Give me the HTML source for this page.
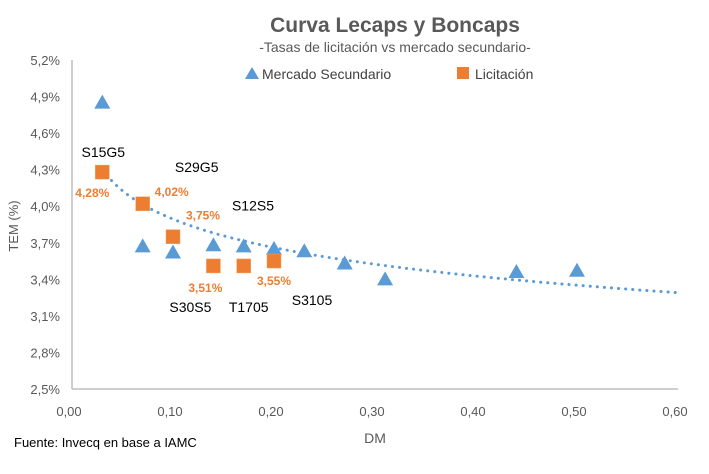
<!DOCTYPE html>
<html><head><meta charset="utf-8"><style>
body{margin:0;background:#fff;font-family:"Liberation Sans",sans-serif}
svg text{font-family:"Liberation Sans",sans-serif}
</style></head><body>
<svg id="c" width="709" height="469">
<text x="395" y="32" text-anchor="middle" font-size="21" font-weight="bold" fill="#595959">Curva Lecaps y Boncaps</text>
<text x="395" y="52" text-anchor="middle" font-size="14" fill="#595959">-Tasas de licitación vs mercado secundario-</text>
<g>
<polygon points="252,67 259,79 245,79" fill="#5b9bd5"/>
<text x="262" y="79" font-size="14" fill="#404040">Mercado Secundario</text>
<rect x="457" y="67" width="12" height="12" fill="#ed7d31"/>
<text x="475" y="79" font-size="14" fill="#404040">Licitación</text>
</g>
<g id="axes"></g><g id="marks"></g>
<text x="18" y="226" font-size="13" fill="#595959" transform="rotate(-90 18 226)" text-anchor="middle">TEM (%)</text>
<text x="375" y="443" font-size="14" fill="#595959" text-anchor="middle">DM</text>
<text x="14" y="447" font-size="13" fill="#000">Fuente: Invecq en base a IAMC</text>
</svg>
<script>
const xTicks=[0,0.1,0.2,0.3,0.4,0.5,0.6];
const xTickLabels=["0,00","0,10","0,20","0,30","0,40","0,50","0,60"];
const yTicks=[2.5,2.8,3.1,3.4,3.7,4.0,4.3,4.6,4.9,5.2];
const yTickLabels=["2,5%","2,8%","3,1%","3,4%","3,7%","4,0%","4,3%","4,6%","4,9%","5,2%"];
const mercadoX=[0.03,0.07,0.10,0.14,0.17,0.20,0.23,0.27,0.31,0.44,0.50];
const mercadoY=[4.85,3.67,3.62,3.68,3.67,3.65,3.63,3.53,3.40,3.46,3.47];
const licitX=[0.03,0.07,0.10,0.14,0.17,0.20];
const licitY=[4.28,4.02,3.75,3.51,3.51,3.55];
const licitVals=["4,28%","4,02%","3,75%","3,51%",null,"3,55%"];
const tickerNames=["S15G5","S29G5","S12S5","S30S5","T1705","S3105"];
const tickerOff=[[1,-15],[54,-32],[80,-26],[-23,46],[5,46],[38,44]];
const valOff=[[-10,25],[29,-8],[30,-17],[-8,26],[0,0],[0,24]];
const trendA=3.118, trendB=-0.337;
const X=v=>72+v*(606/0.6), Y=v=>389-(v-2.5)*(329/2.7);
const NS="http://www.w3.org/2000/svg";
function mk(t,a,p){const e=document.createElementNS(NS,t);for(const k in a)e.setAttribute(k,a[k]);p.appendChild(e);return e;}
const ax=document.getElementById('axes'), mg=document.getElementById('marks');
const yl=mk('line',{x1:72,y1:60,x2:72,y2:389,stroke:'#bfbfbf','stroke-width':1.5},ax);


const xl=mk('line',{x1:72,y1:389,x2:678,y2:389,stroke:'#bfbfbf','stroke-width':1.5},ax);


yTicks.forEach((v,i)=>{const t=mk('text',{x:60,y:Y(v)+5,'text-anchor':'end','font-size':13,fill:'#595959'},ax);t.textContent=yTickLabels[i];

});
xTicks.forEach((v,i)=>{const t=mk('text',{x:X(v)-3,y:416,'text-anchor':'middle','font-size':13,fill:'#595959'},ax);t.textContent=xTickLabels[i];

});
let d='';for(let x=0.03;x<=0.6001;x+=0.005){d+=(d?'L':'M')+X(x).toFixed(1)+','+Y(trendA+trendB*Math.log(x)).toFixed(1);}
const tl=mk('path',{d:d,fill:'none',stroke:'#5b9bd5','stroke-width':3,'stroke-dasharray':'0.1 7','stroke-linecap':'round'},mg);


mercadoX.forEach((x,i)=>{const cx=X(x),cy=Y(mercadoY[i]);const p=mk('polygon',{points:`${cx},${cy-8} ${cx+8},${cy+6} ${cx-8},${cy+6}`,fill:'#5b9bd5'},mg);

});
licitX.forEach((x,i)=>{const cx=X(x),cy=Y(licitY[i]);const r=mk('rect',{x:cx-7,y:cy-7,width:14,height:14,fill:'#ed7d31',stroke:'#f4a460','stroke-width':0.5},mg);


if(licitVals[i]){const t=mk('text',{x:cx+valOff[i][0],y:cy+valOff[i][1],'text-anchor':'middle','font-size':12,'font-weight':'bold',fill:'#ed7d31'},mg);t.textContent=licitVals[i];

}
const n=mk('text',{x:cx+tickerOff[i][0],y:cy+tickerOff[i][1],'text-anchor':'middle','font-size':14,fill:'#000'},mg);n.textContent=tickerNames[i];

});
</script>
</body></html>
